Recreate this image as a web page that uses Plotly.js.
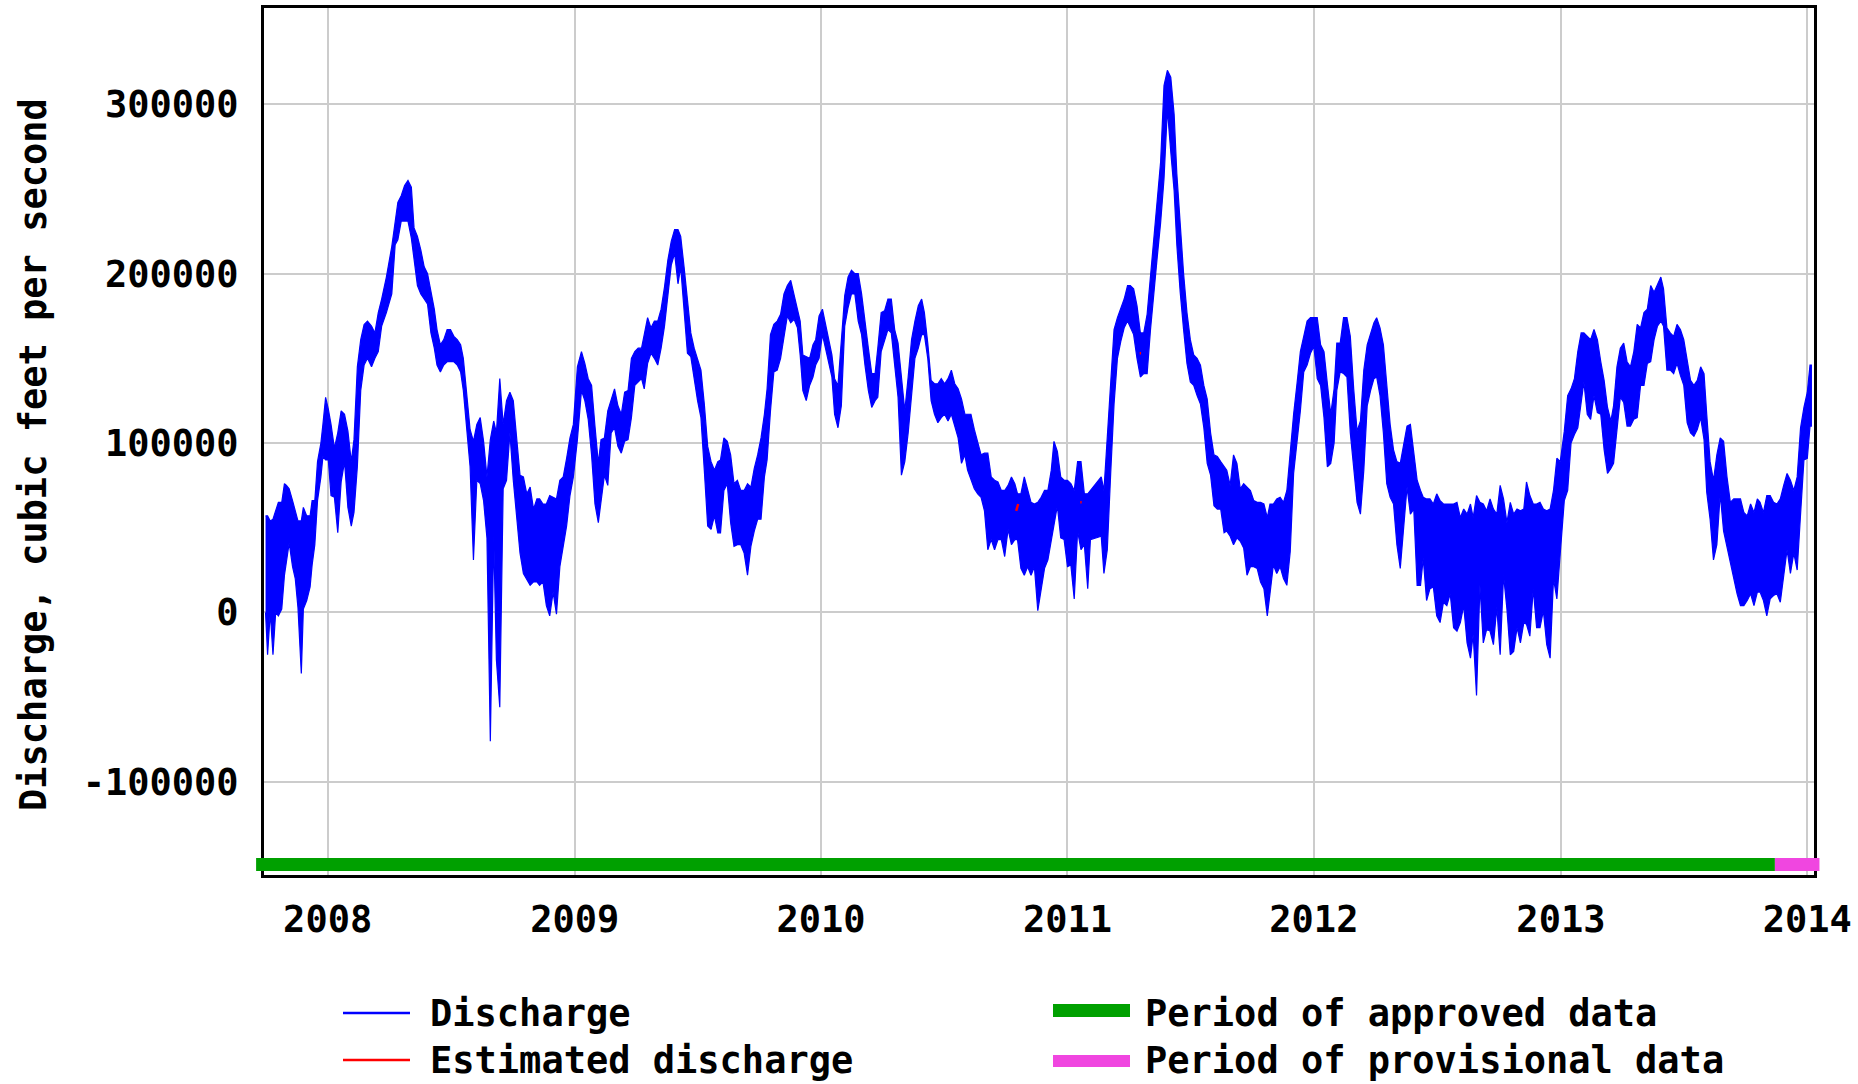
<!DOCTYPE html>
<html>
<head>
<meta charset="utf-8">
<script src="https://cdn.plot.ly/plotly-3.0.1.min.js"></script>
<style>
  html, body { margin: 0; padding: 0; background: #ffffff; }
  #chart { width: 1858px; height: 1084px; }
</style>
</head>
<body>
<div id="chart"></div>
<script>
// Sample dates of the discharge record with the high and low tidal envelope (cfs) on each date
const sampleDates = [
  '2007-10-01','2007-10-04','2007-10-08','2007-10-12','2007-10-16','2007-10-20','2007-10-25','2007-10-29',
  '2007-11-01','2007-11-05','2007-11-10','2007-11-14','2007-11-18','2007-11-23','2007-11-26',
  '2007-12-01','2007-12-06','2007-12-09','2007-12-13','2007-12-17','2007-12-22','2007-12-25','2007-12-29',
  '2008-01-02','2008-01-06','2008-01-11','2008-01-16','2008-01-21','2008-01-26','2008-01-31',
  '2008-02-05','2008-02-09','2008-02-14','2008-02-19','2008-02-24','2008-02-29',
  '2008-03-06','2008-03-11','2008-03-16','2008-03-21','2008-03-28',
  '2008-04-05','2008-04-10','2008-04-14','2008-04-19','2008-04-24','2008-04-29',
  '2008-05-04','2008-05-08','2008-05-13','2008-05-18','2008-05-23','2008-05-28',
  '2008-06-02','2008-06-07','2008-06-11','2008-06-16','2008-06-21','2008-06-26',
  '2008-07-01','2008-07-06','2008-07-11','2008-07-16','2008-07-20','2008-07-25','2008-07-30',
  '2008-08-04','2008-08-09','2008-08-14','2008-08-19','2008-08-24','2008-08-29',
  '2008-09-03','2008-09-07','2008-09-12','2008-09-17','2008-09-22','2008-09-27',
  '2008-10-02','2008-10-07','2008-10-12','2008-10-17','2008-10-22','2008-10-27',
  '2008-11-01','2008-11-06','2008-11-10','2008-11-15','2008-11-20','2008-11-25','2008-11-30',
  '2008-12-05','2008-12-10','2008-12-15','2008-12-20','2008-12-25','2008-12-30',
  '2009-01-05','2009-01-11','2009-01-16','2009-01-21','2009-01-26','2009-01-31',
  '2009-02-05','2009-02-09','2009-02-14','2009-02-19','2009-02-24',
  '2009-03-01','2009-03-06','2009-03-11','2009-03-16','2009-03-21','2009-03-26','2009-03-31',
  '2009-04-05','2009-04-10','2009-04-14','2009-04-19','2009-04-24','2009-04-29',
  '2009-05-04','2009-05-09','2009-05-14','2009-05-19','2009-05-24','2009-05-29',
  '2009-06-03','2009-06-07','2009-06-12','2009-06-17','2009-06-22','2009-06-27',
  '2009-07-02','2009-07-07','2009-07-12','2009-07-17','2009-07-22','2009-07-27',
  '2009-08-01','2009-08-05','2009-08-10','2009-08-15','2009-08-20','2009-08-25','2009-08-30',
  '2009-09-04','2009-09-09','2009-09-14','2009-09-19','2009-09-24','2009-09-29',
  '2009-10-04','2009-10-09','2009-10-13','2009-10-18','2009-10-23','2009-10-28',
  '2009-11-02','2009-11-07','2009-11-12','2009-11-17','2009-11-22','2009-11-27',
  '2009-12-01','2009-12-05','2009-12-10','2009-12-15','2009-12-20','2009-12-24','2009-12-29',
  '2010-01-03','2010-01-17','2010-01-21','2010-01-26','2010-01-31',
  '2010-02-05','2010-02-10','2010-02-15','2010-02-20','2010-02-25',
  '2010-03-02','2010-03-07','2010-03-12','2010-03-17','2010-03-22','2010-03-26','2010-03-31',
  '2010-04-05','2010-04-10','2010-04-15','2010-04-20','2010-04-25','2010-04-30',
  '2010-05-05','2010-05-10','2010-05-15','2010-05-20','2010-05-25','2010-05-30',
  '2010-06-03','2010-06-08','2010-06-13','2010-06-18','2010-06-23','2010-06-28',
  '2010-07-03','2010-07-08','2010-07-13','2010-07-18','2010-07-23','2010-07-28',
  '2010-08-02','2010-08-06','2010-08-11','2010-08-16','2010-08-21','2010-08-26','2010-08-31',
  '2010-09-05','2010-09-10','2010-09-15','2010-09-20','2010-09-25','2010-09-30',
  '2010-10-05','2010-10-10','2010-10-15','2010-10-19','2010-10-24','2010-10-29',
  '2010-11-03','2010-11-08','2010-11-13','2010-11-18','2010-11-23','2010-11-28',
  '2010-12-03','2010-12-08','2010-12-12','2010-12-17','2010-12-22','2010-12-27',
  '2011-01-01','2011-01-06','2011-01-11','2011-01-16','2011-01-21','2011-01-26','2011-01-31',
  '2011-02-04','2011-02-20','2011-02-24',
  '2011-03-01','2011-03-06','2011-03-11','2011-03-16','2011-03-21','2011-03-26','2011-03-31',
  '2011-04-04','2011-04-09','2011-04-14','2011-04-19','2011-04-24','2011-04-29',
  '2011-05-04','2011-05-09','2011-05-14','2011-05-19','2011-05-24','2011-05-29',
  '2011-06-03','2011-06-08','2011-06-12','2011-06-17','2011-06-22','2011-06-27',
  '2011-07-02','2011-07-07','2011-07-12','2011-07-17','2011-07-22','2011-07-27',
  '2011-08-01','2011-08-06','2011-08-11','2011-08-16','2011-08-21','2011-08-25','2011-08-30',
  '2011-09-04','2011-09-09','2011-09-14','2011-09-19','2011-09-24','2011-09-29',
  '2011-10-04','2011-10-09','2011-10-14','2011-10-19','2011-10-24','2011-10-28',
  '2011-11-02','2011-11-07','2011-11-12','2011-11-17','2011-11-22','2011-11-27',
  '2011-12-02','2011-12-07','2011-12-12','2011-12-17','2011-12-22','2011-12-27',
  '2012-01-01','2012-01-06','2012-01-11','2012-01-16','2012-01-21','2012-01-26','2012-01-31',
  '2012-02-04','2012-02-09','2012-02-14','2012-02-19','2012-02-24','2012-02-29',
  '2012-03-05','2012-03-10','2012-03-15','2012-03-20','2012-03-25','2012-03-30',
  '2012-04-03','2012-04-08','2012-04-13','2012-04-18','2012-04-23','2012-04-28',
  '2012-05-03','2012-05-08','2012-05-13','2012-05-18','2012-05-23','2012-05-28',
  '2012-06-02','2012-06-07','2012-06-11','2012-06-16','2012-06-21','2012-06-26',
  '2012-07-01','2012-07-06','2012-07-11','2012-07-16','2012-07-21','2012-07-26','2012-07-31',
  '2012-08-05','2012-08-10','2012-08-15','2012-08-20','2012-08-24','2012-08-29',
  '2012-09-03','2012-09-08','2012-09-13','2012-09-18','2012-09-23','2012-09-28',
  '2012-10-03','2012-10-08','2012-10-13','2012-10-18','2012-10-23','2012-10-28',
  '2012-11-02','2012-11-07','2012-11-11','2012-11-16','2012-11-21','2012-11-26',
  '2012-12-01','2012-12-06','2012-12-11','2012-12-16','2012-12-21','2012-12-26','2012-12-31',
  '2013-01-06','2013-01-11','2013-01-16','2013-01-21','2013-01-26','2013-01-31',
  '2013-02-04','2013-02-09','2013-02-14','2013-02-19','2013-02-24',
  '2013-03-01','2013-03-06','2013-03-11','2013-03-16','2013-03-20','2013-03-25','2013-03-30',
  '2013-04-04','2013-04-09','2013-04-14','2013-04-19','2013-04-24','2013-04-29',
  '2013-05-04','2013-05-09','2013-05-14','2013-05-19','2013-05-24','2013-05-29',
  '2013-06-02','2013-06-07','2013-06-12','2013-06-17','2013-06-22','2013-06-27',
  '2013-07-02','2013-07-07','2013-07-12','2013-07-17','2013-07-22','2013-07-27',
  '2013-08-01','2013-08-05','2013-08-10','2013-08-15','2013-08-20','2013-08-25','2013-08-30',
  '2013-09-04','2013-09-09','2013-09-14','2013-09-19','2013-09-24','2013-09-29',
  '2013-10-04','2013-10-09','2013-10-14','2013-10-19','2013-10-23','2013-10-28',
  '2013-11-02','2013-11-07','2013-11-12','2013-11-17','2013-11-22','2013-11-27',
  '2013-12-02','2013-12-07','2013-12-12','2013-12-17','2013-12-22','2013-12-27',
  '2014-01-01','2014-01-05','2014-01-07'
];

const dischargeHigh = [
  57000,57000,54000,55000,60000,65000,65000,76000,
  75000,73000,66000,60000,54000,54000,62000,
  57000,57000,66000,66000,89000,100000,111000,127000,
  120000,111000,97000,106000,119000,117000,107000,
  89000,102000,145000,161000,170000,172000,
  169000,165000,177000,185000,198000,
  216000,231000,242000,246000,252000,255000,
  251000,227000,222000,214000,204000,200000,
  189000,179000,167000,158000,161000,167000,
  167000,163000,161000,158000,150000,131000,108000,
  101000,111000,115000,101000,80000,102000,
  113000,106000,138000,111000,125000,130000,
  125000,101000,81000,80000,70000,74000,
  61000,67000,67000,64000,64000,69000,68000,
  67000,78000,80000,91000,103000,111000,
  145000,154000,147000,138000,134000,110000,
  88000,102000,103000,119000,126000,
  132000,122000,117000,130000,131000,150000,154000,
  156000,156000,164000,174000,168000,172000,
  172000,179000,192000,208000,219000,226000,
  226000,222000,204000,185000,165000,156000,
  150000,143000,123000,98000,89000,84000,
  89000,90000,103000,101000,93000,76000,78000,
  72000,72000,76000,74000,85000,93000,
  103000,117000,132000,164000,170000,172000,
  176000,188000,193000,196000,188000,180000,
  172000,152000,151000,150000,158000,161000,175000,
  179000,152000,138000,134000,161000,
  187000,198000,202000,200000,200000,
  188000,170000,156000,141000,141000,156000,177000,
  178000,185000,185000,167000,159000,138000,
  119000,139000,161000,172000,181000,185000,
  177000,159000,137000,135000,135000,138000,
  135000,138000,143000,135000,132000,126000,
  117000,117000,117000,108000,100000,93000,94000,
  94000,80000,78000,77000,72000,72000,
  75000,80000,76000,70000,70000,80000,
  72000,65000,64000,65000,68000,72000,
  72000,84000,101000,95000,80000,78000,
  78000,76000,72000,89000,89000,70000,70000,
  72000,80000,72000,
  105000,135000,167000,174000,179000,185000,193000,
  193000,191000,181000,165000,165000,176000,
  198000,221000,246000,266000,311000,320000,
  316000,294000,259000,226000,200000,177000,
  161000,152000,150000,146000,134000,126000,
  106000,93000,92000,89000,86000,84000,75000,
  93000,88000,73000,76000,74000,72000,
  66000,65000,65000,64000,56000,64000,
  64000,67000,68000,65000,72000,97000,
  117000,135000,154000,163000,172000,174000,
  174000,174000,158000,154000,135000,117000,132000,
  159000,159000,174000,174000,163000,132000,
  107000,113000,143000,158000,165000,171000,
  174000,168000,158000,132000,111000,96000,
  89000,88000,98000,110000,111000,94000,
  78000,72000,68000,67000,67000,64000,
  70000,66000,64000,64000,64000,64000,65000,
  56000,61000,58000,64000,56000,69000,
  65000,64000,60000,67000,61000,58000,
  75000,67000,53000,65000,58000,61000,
  60000,61000,77000,69000,64000,64000,
  65000,61000,60000,61000,72000,91000,89000,
  107000,128000,132000,138000,154000,165000,
  165000,163000,161000,167000,161000,
  148000,137000,121000,113000,122000,145000,156000,
  159000,148000,145000,154000,170000,168000,
  177000,179000,193000,189000,194000,198000,
  191000,168000,165000,163000,170000,167000,
  161000,150000,137000,134000,137000,145000,
  141000,117000,89000,78000,93000,103000,101000,
  80000,65000,67000,67000,67000,59000,
  57000,64000,59000,67000,65000,59000,
  69000,69000,65000,64000,67000,75000,
  82000,78000,72000,80000,109000,121000,
  130000,146000,146000
];

const dischargeLow = [
  0,-25000,0,-25000,0,-2000,2000,22000,
  30000,41000,27000,20000,3000,-36000,2000,
  7000,15000,28000,40000,66000,80000,92000,90000,
  90000,69000,68000,47000,77000,89000,62000,
  51000,59000,86000,131000,146000,150000,
  145000,150000,154000,169000,177000,
  188000,217000,220000,231000,231000,231000,
  221000,208000,193000,188000,185000,182000,
  165000,156000,146000,142000,146000,148000,
  148000,148000,146000,142000,131000,109000,86000,
  31000,78000,76000,66000,44000,-76000,
  45000,-28000,-56000,73000,78000,106000,
  78000,55000,35000,23000,20000,16000,
  18000,18000,16000,18000,4000,-2000,12000,
  -1000,27000,40000,51000,69000,80000,
  102000,131000,125000,114000,93000,64000,
  53000,64000,81000,75000,106000,
  109000,98000,94000,101000,102000,115000,134000,
  136000,138000,132000,147000,153000,150000,
  146000,156000,169000,185000,205000,212000,
  194000,204000,179000,153000,151000,138000,
  125000,115000,84000,51000,49000,57000,
  47000,47000,72000,76000,53000,39000,40000,
  40000,35000,22000,39000,48000,55000,
  55000,80000,90000,119000,142000,143000,
  150000,161000,175000,171000,173000,168000,
  152000,131000,125000,134000,139000,146000,150000,
  164000,139000,117000,109000,122000,
  169000,180000,188000,188000,172000,
  164000,146000,131000,121000,125000,127000,154000,
  161000,167000,165000,148000,127000,81000,
  89000,106000,128000,150000,156000,164000,
  164000,150000,125000,117000,112000,115000,
  117000,113000,117000,110000,103000,88000,
  93000,84000,78000,73000,70000,68000,60000,
  37000,43000,37000,43000,43000,33000,
  49000,40000,43000,43000,26000,22000,
  27000,22000,27000,1000,12000,26000,
  31000,44000,51000,63000,44000,43000,
  27000,28000,8000,48000,37000,40000,14000,
  43000,45000,23000,
  37000,82000,123000,150000,160000,168000,172000,
  168000,164000,150000,139000,141000,141000,
  167000,189000,210000,230000,256000,297000,
  272000,249000,217000,189000,167000,147000,
  136000,134000,128000,123000,109000,88000,
  81000,63000,61000,61000,47000,48000,45000,
  40000,44000,42000,38000,22000,27000,
  27000,26000,18000,14000,-2000,11000,
  28000,23000,27000,20000,16000,36000,
  82000,101000,119000,142000,146000,153000,
  157000,138000,134000,115000,86000,88000,100000,
  131000,142000,141000,139000,106000,88000,
  65000,58000,84000,122000,131000,138000,
  139000,128000,106000,76000,68000,64000,
  40000,26000,51000,74000,58000,61000,
  16000,16000,32000,7000,14000,15000,
  -2000,-6000,6000,4000,11000,-9000,-11000,
  -6000,4000,-18000,-27000,-13000,-49000,
  16000,-18000,-10000,-11000,-19000,3000,
  -25000,22000,2000,-25000,-23000,-9000,
  -18000,-6000,-7000,-14000,14000,-9000,
  -9000,1000,-19000,-27000,20000,8000,35000,
  66000,72000,100000,105000,109000,125000,
  136000,117000,114000,128000,118000,
  117000,96000,82000,85000,88000,109000,127000,
  124000,110000,110000,114000,115000,134000,
  134000,147000,148000,161000,169000,172000,
  169000,143000,143000,141000,147000,140000,
  134000,112000,106000,104000,108000,115000,
  102000,71000,55000,31000,40000,70000,48000,
  40000,31000,20000,11000,4000,4000,
  7000,11000,4000,12000,12000,7000,
  -2000,8000,10000,11000,6000,23000,
  37000,23000,35000,25000,58000,90000,
  91000,110000,110000
];

// Short stretches of estimated discharge (null separates the stretches)
const estimatedDates = ['2010-10-17', '2010-10-20', null, '2011-01-20', '2011-01-22', null, '2011-04-18', '2011-04-20'];
const estimatedValues = [60000, 64000, null, 65000, 65000, null, 153000, 153000];

// Data-quality periods shown along the bottom of the plot
const approvedPeriod = ['2007-09-17', '2013-11-14'];
const provisionalPeriod = ['2013-11-14', '2014-01-19'];

// Axis ticks
const yearTickDates = ['2008-01-01', '2009-01-01', '2010-01-01', '2011-01-01', '2012-01-01', '2013-01-01', '2014-01-01'];
const yearTickLabels = ['2008', '2009', '2010', '2011', '2012', '2013', '2014'];
const dischargeTicks = [-100000, 0, 100000, 200000, 300000];
const dischargeTickLabels = ['-100000', '0', '100000', '200000', '300000'];

// Legend entries
const legendLines = [
  { label: 'Discharge', color: '#0000ff' },
  { label: 'Estimated discharge', color: '#ff0000' }
];
const legendPeriods = [
  { label: 'Period of approved data', color: '#00a000' },
  { label: 'Period of provisional data', color: '#f046e0' }
];

// ---- layout geometry (pixels) ----
const W = 1858, H = 1084;
const M = { l: 250, r: 30, t: 8, b: 209 };
const plotW = W - M.l - M.r;          // 1578
const plotH = H - M.t - M.b;          // 867
const frameLeft = 264, frameRight = 1814;
const xDomain = [(frameLeft - M.l) / plotW, (frameRight - M.l) / plotW];

const xRange = ['2007-09-28 17:00', '2014-01-10 22:00'];
const yRange = [-155000, 356800];

// wider hidden axis for the period bars, which run a little past the frame
function toMs(s) { return Date.parse(s.replace(' ', 'T') + 'Z'); }
function fromMs(ms) { return new Date(ms).toISOString().replace('T', ' ').replace('Z', ''); }
const msPerPx = (toMs(xRange[1]) - toMs(xRange[0])) / (frameRight - frameLeft);
const xRangeWide = [
  fromMs(toMs(xRange[0]) - (frameLeft - M.l) * msPerPx),
  fromMs(toMs(xRange[1]) + (M.l + plotW - frameRight) * msPerPx)
];

const px2paperX = px => (px - M.l) / plotW;
const px2paperY = py => (M.t + plotH - py) / plotH;

const FONT = 'DejaVu Sans Mono, Liberation Mono, monospace';

// envelope polygon: high values forward, low values back
const polyX = sampleDates.concat(sampleDates.slice().reverse());
const polyY = dischargeHigh.concat(dischargeLow.slice().reverse());

const traces = [
  {
    type: 'scatter', mode: 'lines', name: 'Discharge',
    x: polyX, y: polyY, xaxis: 'x', yaxis: 'y',
    fill: 'toself', fillcolor: '#0000ff',
    line: { color: '#0000ff', width: 1.2 },
    hoverinfo: 'skip', showlegend: false
  },
  {
    type: 'scatter', mode: 'lines', name: 'Estimated discharge',
    x: estimatedDates, y: estimatedValues, xaxis: 'x', yaxis: 'y',
    line: { color: '#ff0000', width: 2.5 },
    connectgaps: false, hoverinfo: 'skip', showlegend: false
  }
];

const barTop = -144900, barBottom = -152600;
const shapes = [
  { type: 'rect', xref: 'x2', yref: 'y2', layer: 'above',
    x0: approvedPeriod[0], x1: approvedPeriod[1], y0: barBottom, y1: barTop,
    fillcolor: legendPeriods[0].color, line: { width: 0 } },
  { type: 'rect', xref: 'x2', yref: 'y2', layer: 'above',
    x0: provisionalPeriod[0], x1: provisionalPeriod[1], y0: barBottom, y1: barTop,
    fillcolor: legendPeriods[1].color, line: { width: 0 } }
];

const annotations = [
  {
    xref: 'paper', yref: 'paper', x: px2paperX(33), y: px2paperY(455),
    xanchor: 'center', yanchor: 'middle', textangle: -90, showarrow: false,
    text: 'Discharge, cubic feet per second',
    font: { family: FONT, size: 37, color: '#000000', weight: 'bold' }
  }
];

// legend: line samples on the left, period swatches on the right
const legendRowsY = [1013, 1060];
const legendFont = { family: FONT, size: 37, color: '#000000', weight: 'bold' };
legendLines.forEach((d, i) => {
  const y = px2paperY(legendRowsY[i]);
  shapes.push({ type: 'line', xref: 'paper', yref: 'paper',
    x0: px2paperX(343), x1: px2paperX(410), y0: y, y1: y,
    line: { color: d.color, width: 2.5 } });
  annotations.push({ xref: 'paper', yref: 'paper', x: px2paperX(429), y: y,
    xanchor: 'left', yanchor: 'middle', showarrow: false, text: d.label,
    borderpad: 0, font: legendFont });
});
const swatchRows = [[1004, 1017], [1055, 1067]];
legendPeriods.forEach((d, i) => {
  shapes.push({ type: 'rect', xref: 'paper', yref: 'paper',
    x0: px2paperX(1053), x1: px2paperX(1130),
    y0: px2paperY(swatchRows[i][1]), y1: px2paperY(swatchRows[i][0]),
    fillcolor: d.color, line: { width: 0 } });
  annotations.push({ xref: 'paper', yref: 'paper', x: px2paperX(1144), y: px2paperY(legendRowsY[i]),
    xanchor: 'left', yanchor: 'middle', showarrow: false, text: d.label,
    borderpad: 0, font: legendFont });
});

const tickFont = { family: FONT, size: 37, color: '#000000', weight: 'bold' };

const layout = {
  width: W, height: H,
  margin: M,
  paper_bgcolor: '#ffffff', plot_bgcolor: 'rgba(0,0,0,0)',
  showlegend: false,
  xaxis: {
    type: 'date', domain: xDomain, range: xRange, anchor: 'y',
    tickmode: 'array', tickvals: yearTickDates, ticktext: yearTickLabels,
    ticks: '', tickfont: tickFont, ticklabelstandoff: 10,
    showgrid: true, gridcolor: '#cccccc', gridwidth: 2,
    zeroline: false, showline: true, mirror: true, linecolor: '#000000', linewidth: 3
  },
  yaxis: {
    domain: [0, 1], range: yRange, anchor: 'x',
    tickmode: 'array', tickvals: dischargeTicks, ticktext: dischargeTickLabels,
    ticks: '', tickfont: tickFont, ticklabelstandoff: 15,
    showgrid: true, gridcolor: '#cccccc', gridwidth: 2,
    zeroline: false, showline: true, mirror: true, linecolor: '#000000', linewidth: 3
  },
  xaxis2: { type: 'date', domain: [0, 1], range: xRangeWide, anchor: 'y2', visible: false, showgrid: false },
  yaxis2: { domain: [0, 1], range: yRange, anchor: 'x2', visible: false, showgrid: false },
  shapes: shapes,
  annotations: annotations
};

Plotly.newPlot('chart', traces, layout, { staticPlot: true, displayModeBar: false });
</script>
</body>
</html>
